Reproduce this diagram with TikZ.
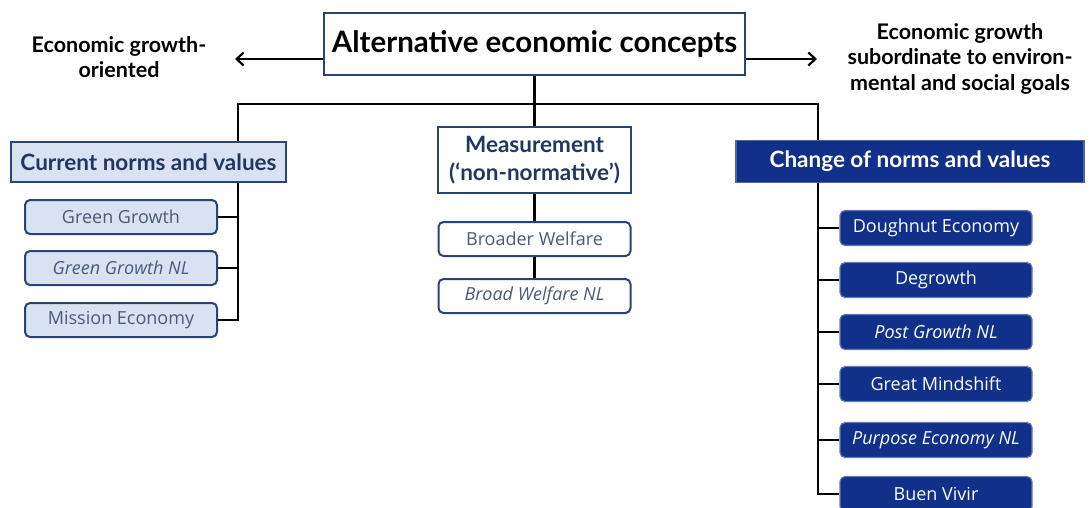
\documentclass[tikz,border=0pt]{standalone}
\usepackage{fontspec}
\setmainfont{Open Sans}
\newfontfamily\headfont{Lato}
\usetikzlibrary{arrows.meta}
\definecolor{navy}{HTML}{2B4474}
\definecolor{headtext}{HTML}{22375F}
\definecolor{lightblue}{HTML}{D9E2F3}
\definecolor{deepblue}{HTML}{10308A}
\definecolor{itemtext}{HTML}{4A5A78}
\begin{document}
\begin{tikzpicture}[x=1pt,y=-1pt,
  link/.style={line width=2.7pt, black, line join=miter},
  arrowline/.style={line width=2.4pt, black, -{Straight Barb[length=7pt,width=13pt,line width=2.2pt]}},
  sidetext/.style={font=\headfont\bfseries\fontsize{21.5}{25.5}\selectfont, align=center, text=black, inner sep=0},
  titlebox/.style={draw=navy, line width=2pt, fill=white, minimum width=421, minimum height=62, inner sep=0,
    font=\headfont\bfseries\fontsize{29.5}{33}\selectfont, text=black},
  headbox/.style={draw=navy, line width=2pt, inner sep=0, align=center, text=headtext,
    font=\headfont\bfseries\fontsize{22.5}{27.5}\selectfont},
  curhead/.style={headbox, fill=lightblue, minimum width=275, minimum height=40},
  meashead/.style={headbox, fill=white, minimum width=193, minimum height=66},
  chghead/.style={headbox, fill=deepblue, draw=deepblue!75!white, line width=1.2pt, text=white,
    minimum width=348, minimum height=42},
  itembox/.style={rounded corners=5pt, minimum width=192, minimum height=34, inner sep=0,
    font=\fontsize{18}{21}\selectfont},
  curitem/.style={itembox, draw=navy, line width=2pt, fill=lightblue, text=itemtext},
  measitem/.style={itembox, draw=navy, line width=2pt, fill=white, text=itemtext},
  chgitem/.style={itembox, draw=deepblue!65!white, line width=1.2pt, fill=deepblue, text=white, minimum height=35}
]
\useasboundingbox (0,0) rectangle (1090,507);
\clip (0,0) rectangle (1090,507);

% top concept and the two directions
\node[titlebox] (title) at (534.5,44) {Alternative economic concepts};
\node[sidetext] (lefttext) at (119,57) {Economic growth-\\oriented};
\node[sidetext] (righttext) at (960,58.5) {Economic growth\\subordinate to environ-\\mental and social goals};
\coordinate (ltip) at (235,59);
\coordinate (rtip) at (817,59);
\draw[arrowline] (title.west |- ltip) -- (ltip);
\draw[arrowline] (title.east |- rtip) -- (rtip);

% three branch headers
\node[curhead] (cur) at (148.5,162) {Current norms and values};
\node[meashead] (meas) at (534.5,160) {Measurement\\(‘non-normative’)};
\node[chghead] (chg) at (910,161.5) {Change of norms and values};

% left branch items
\node[curitem] (gg) at (121,217) {Green Growth};
\node[curitem] (ggnl) at (121,268) {\itshape Green Growth NL};
\node[curitem] (mis) at (121,320) {Mission Economy};

% middle branch items
\node[measitem] (bw) at (534.5,239) {Broader Welfare};
\node[measitem] (bwnl) at (534.5,296) {\itshape Broad Welfare NL};

% right branch items
\node[chgitem] (dn) at (936,228) {Doughnut Economy};
\node[chgitem] (dg) at (936,280) {Degrowth};
\node[chgitem] (pg) at (936,332) {\itshape Post Growth NL};
\node[chgitem] (gm) at (936,384) {Great Mindshift};
\node[chgitem] (pe) at (936,440) {\itshape Purpose Economy NL};
\node[chgitem] (bv) at (936,494) {Buen Vivir};

% connectors
\coordinate (lbus) at (238,104);
\coordinate (rbus) at (818,104);
\draw[link] (title.south) -- (meas.north);
\draw[link] (cur.north -| lbus) -- (lbus) -- (rbus) -- (chg.north -| rbus);
\draw[link] (cur.south -| lbus) -- (lbus |- mis.east) -- (mis.east);
\draw[link] (gg.east) -- (gg.east -| lbus);
\draw[link] (ggnl.east) -- (ggnl.east -| lbus);
\draw[link] (meas.south) -- (bw.north);
\draw[link] (bw.south) -- (bwnl.north);
\draw[link] (chg.south -| rbus) -- (rbus |- bv.west) -- (bv.west);
\foreach \n in {dn,dg,pg,gm,pe}
  \draw[link] (\n.west -| rbus) -- (\n.west);
\end{tikzpicture}
\end{document}
